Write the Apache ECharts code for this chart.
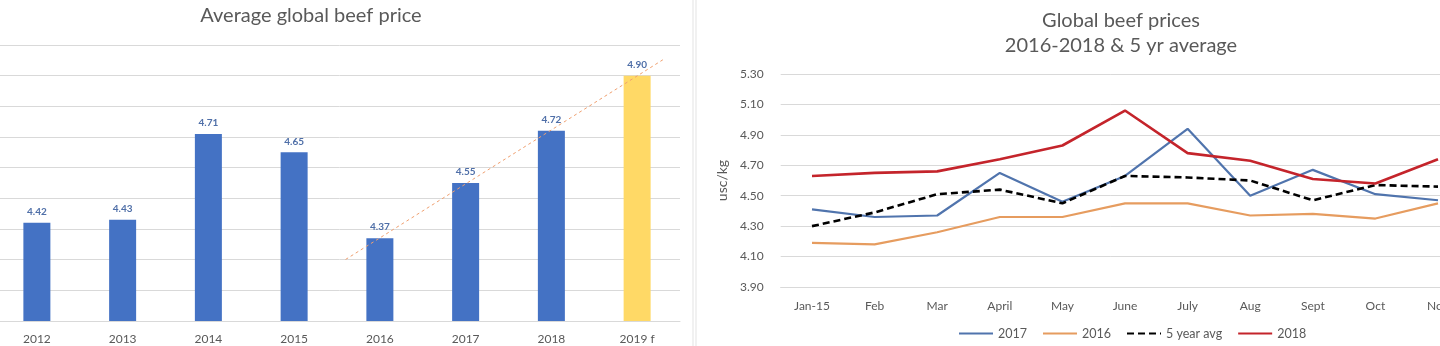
<!DOCTYPE html>
<html>
<head>
<meta charset="utf-8">
<script src="https://cdn.jsdelivr.net/npm/echarts@6/dist/echarts.min.js"></script>
<style>
html,body{margin:0;padding:0;background:#fff;}
#c{width:1440px;height:346px;}
</style>
</head>
<body>
<div id="c"></div>
<script>
// ---- Left chart data ----
const barCategories = ['2012', '2013', '2014', '2015', '2016', '2017', '2018', '2019 f'];
const barValues = [4.42, 4.43, 4.71, 4.65, 4.37, 4.55, 4.72, 4.90];
const forecastIndex = 7;      // '2019 f' is the forecast bar
const trendStartIndex = 4;    // trendline fitted from 2016 onward
const trendBackward = 0.4;
const trendForward = 0.3;

// ---- Right chart data ----
const months = ['Jan-15', 'Feb', 'Mar', 'April', 'May', 'June', 'July', 'Aug', 'Sept', 'Oct', 'Nov', 'Dec'];
const s2017 = [4.41, 4.36, 4.37, 4.65, 4.46, 4.63, 4.94, 4.50, 4.67, 4.51, 4.47];
const s2016 = [4.19, 4.18, 4.26, 4.36, 4.36, 4.45, 4.45, 4.37, 4.38, 4.35, 4.45];
const avg5  = [4.30, 4.39, 4.51, 4.54, 4.45, 4.63, 4.62, 4.60, 4.47, 4.57, 4.56];
const s2018 = [4.63, 4.65, 4.66, 4.74, 4.83, 5.06, 4.78, 4.73, 4.61, 4.58, 4.74];
const leftTicks = { min: 4.1, max: 5.0, interval: 0.1 };
const rightTicks = { min: 3.9, max: 5.3, interval: 0.2 };

// linear trendline (least squares) over bars from trendStartIndex
const xs = [], ys = [];
for (let i = trendStartIndex; i < barValues.length; i++) { xs.push(i); ys.push(barValues[i]); }
const mx = xs.reduce((a, b) => a + b, 0) / xs.length;
const my = ys.reduce((a, b) => a + b, 0) / ys.length;
let num = 0, den = 0;
xs.forEach((x, k) => { num += (x - mx) * (ys[k] - my); den += (x - mx) * (x - mx); });
const slope = num / den, icpt = my - slope * mx;
const tx0 = trendStartIndex - trendBackward, tx1 = barValues.length - 1 + trendForward;
const trendData = [[tx0, icpt + slope * tx0], [tx1, icpt + slope * tx1]];

const FONT = 'Lato';
const GRAY = '#595959';
const GRID = '#d9d9d9';

const chart = echarts.init(document.getElementById('c'), null, { renderer: 'canvas' });
chart.setOption({
  backgroundColor: '#fff',
  animation: false,
  textStyle: { fontFamily: FONT },
  title: [
    { text: 'Average global beef price', left: 306, top: 1, textAlign: 'center',
      textStyle: { fontFamily: FONT, fontSize: 20, fontWeight: 'normal', color: GRAY } },
    { text: 'Global beef prices\n2016-2018 & 5 yr average', left: 1116, top: 3, textAlign: 'center',
      textStyle: { fontFamily: FONT, fontSize: 20, fontWeight: 'normal', color: GRAY, lineHeight: 25 } }
  ],
  graphic: [
    { type: 'line', shape: { x1: 693, y1: 0, x2: 693, y2: 346 }, style: { stroke: '#e3e3e3', lineWidth: 1 } },
    { type: 'line', shape: { x1: 696, y1: 0, x2: 696, y2: 346 }, style: { stroke: '#e3e3e3', lineWidth: 1 } }
  ],
  legend: {
    data: ['2017', '2016', '5 year avg', '2018'],
    left: 953, top: 322, padding: 5, itemWidth: 34, itemHeight: 2, itemGap: 15,
    itemStyle: { opacity: 0 },
    textStyle: { fontFamily: FONT, fontSize: 12.5, color: GRAY }
  },
  grid: [
    { left: -6, width: 686, top: 45, bottom: 25, outerBoundsMode: 'none', containLabel: false },
    { left: 780.7, width: 751.2, top: 74, bottom: 59, outerBoundsMode: 'none', containLabel: false }
  ],
  xAxis: [
    { type: 'category', gridIndex: 0, data: barCategories,
      axisLine: { show: true, lineStyle: { color: GRID } }, axisTick: { show: false },
      axisLabel: { color: GRAY, fontSize: 12, margin: 12, fontFamily: FONT } },
    { type: 'value', gridIndex: 0, min: -0.5, max: 7.5, show: false },
    { type: 'category', gridIndex: 1, data: months,
      axisLine: { show: true, lineStyle: { color: GRID } }, axisTick: { show: false },
      axisLabel: { color: GRAY, fontSize: 12, margin: 13, fontFamily: FONT, interval: 0 } }
  ],
  yAxis: [
    { type: 'value', gridIndex: 0, min: leftTicks.min, max: leftTicks.max, interval: leftTicks.interval,
      axisLabel: { show: false }, axisLine: { show: false }, axisTick: { show: false },
      splitLine: { lineStyle: { color: GRID } } },
    { type: 'value', gridIndex: 1, min: rightTicks.min, max: rightTicks.max, interval: rightTicks.interval,
      name: 'usc/kg', nameLocation: 'middle', nameGap: 51, nameRotate: 90,
      nameTextStyle: { color: GRAY, fontSize: 14, fontFamily: FONT },
      axisLabel: { color: GRAY, fontSize: 12, margin: 17, fontFamily: FONT, formatter: v => v.toFixed(2) },
      axisLine: { show: false }, axisTick: { show: false },
      splitLine: { lineStyle: { color: GRID } } }
  ],
  series: [
    { type: 'bar', xAxisIndex: 0, yAxisIndex: 0, barWidth: 27,
      data: barValues.map((v, i) => ({ value: v, itemStyle: { color: i === forecastIndex ? '#FFD966' : '#4472C4' } })),
      label: { show: true, position: 'top', distance: 6, fontSize: 10, fontWeight: 'bold', color: '#4f6fa8',
        fontFamily: FONT, formatter: p => p.value.toFixed(2) } },
    { type: 'line', name: 'trend', xAxisIndex: 1, yAxisIndex: 0, data: trendData, symbol: 'none', z: 5,
      lineStyle: { color: '#F0A070', width: 1, type: [3, 3] } },
    { type: 'line', name: '2017', xAxisIndex: 2, yAxisIndex: 1, data: s2017, symbol: 'none',
      lineStyle: { color: '#5074AD', width: 2.2 }, itemStyle: { color: '#5074AD' } },
    { type: 'line', name: '2016', xAxisIndex: 2, yAxisIndex: 1, data: s2016, symbol: 'none',
      lineStyle: { color: '#E69C5F', width: 2.2 }, itemStyle: { color: '#E69C5F' } },
    { type: 'line', name: '5 year avg', xAxisIndex: 2, yAxisIndex: 1, data: avg5, symbol: 'none',
      lineStyle: { color: '#000', width: 2.6, type: [7, 4] }, itemStyle: { color: '#000' } },
    { type: 'line', name: '2018', xAxisIndex: 2, yAxisIndex: 1, data: s2018, symbol: 'none',
      lineStyle: { color: '#C4242B', width: 2.6 }, itemStyle: { color: '#C4242B' } }
  ]
});
</script>
</body>
</html>
